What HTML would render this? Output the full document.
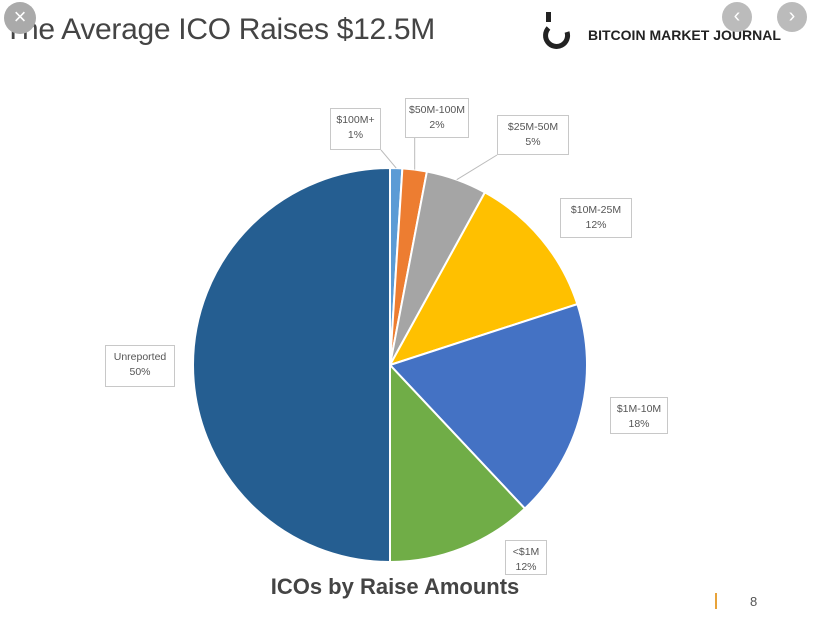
<!DOCTYPE html>
<html><head><meta charset="utf-8"><style>
body{margin:0;width:817px;height:621px;background:#fff;overflow:hidden;font-family:"Liberation Sans",sans-serif;position:relative}
.lbl{position:absolute;background:#fff;border:1px solid #c8c8c8;font-size:10.5px;color:#555;text-align:center;line-height:15px;padding:4px 0;box-sizing:border-box;white-space:nowrap}
</style></head><body>
<div style="position:absolute;left:4px;top:13px;font-size:30px;color:#444;letter-spacing:-0.3px">The Average ICO Raises $12.5M</div>
<div style="position:absolute;left:540px;top:12px;width:36px;height:40px">
<svg width="36" height="40"><rect x="6" y="0" width="5" height="10" fill="#222"/><path d="M8.5 16 A11 11 0 1 0 27 20" stroke="#222" stroke-width="5" fill="none"/></svg></div>
<div style="position:absolute;left:588px;top:27px;font-size:14px;font-weight:bold;color:#222">BITCOIN MARKET JOURNAL</div>
<div style="position:absolute;left:4px;top:2px;width:32px;height:32px;border-radius:50%;background:#aaa;color:#fff;font-size:22px;text-align:center;line-height:30px">×</div>
<div style="position:absolute;left:722px;top:2px;width:30px;height:30px;border-radius:50%;background:#bbb;color:#fff;font-size:20px;text-align:center;line-height:28px">‹</div>
<div style="position:absolute;left:777px;top:2px;width:30px;height:30px;border-radius:50%;background:#bbb;color:#fff;font-size:20px;text-align:center;line-height:28px">›</div>
<svg id="pie" width="817" height="621" style="position:absolute;left:0;top:0"></svg>
<div id="labels"></div>
<div style="position:absolute;left:0;width:790px;top:574px;text-align:center;font-size:22px;font-weight:bold;color:#444">ICOs by Raise Amounts</div>
<div style="position:absolute;left:715px;top:593px;width:2px;height:16px;background:#e8a33a"></div>
<div style="position:absolute;left:750px;top:594px;font-size:13px;color:#555">8</div>
<script>
const categories=["$100M+","$50M-100M","$25M-50M","$10M-25M","$1M-10M","<$1M","Unreported"];
const values=[1,2,5,12,18,12,50];
const colors=["#5b9bd5","#ed7d31","#a5a5a5","#ffc000","#4472c4","#70ad47","#255e91"];
const boxes=[[330,108,51,42],[405,98,64,40],[497,115,72,40],[560,198,72,40],[610,397,58,37],[505,540,42,35],[105,345,70,42]];
const cx=390,cy=365,r=197;
const svg=document.getElementById('pie');
const NS="http://www.w3.org/2000/svg";
const total=values.reduce((a,b)=>a+b,0);
let a0=0;
values.forEach((v,i)=>{
 const a1=a0+v/total*2*Math.PI;
 const p=(a)=>[cx+r*Math.sin(a),cy-r*Math.cos(a)];
 const [x0,y0]=p(a0),[x1,y1]=p(a1);
 const path=document.createElementNS(NS,'path');
 path.setAttribute('d',`M${cx},${cy}L${x0},${y0}A${r},${r} 0 ${a1-a0>Math.PI?1:0} 1 ${x1},${y1}Z`);
 path.setAttribute('fill',colors[i]);path.setAttribute('stroke','#fff');path.setAttribute('stroke-width','2');
 
 
 svg.appendChild(path);
 const b=boxes[i],mid=(a0+a1)/2;
 const ex=cx+r*Math.sin(mid),ey=cy-r*Math.cos(mid);
 const bx=Math.max(b[0],Math.min(b[0]+b[2],ex)),by=Math.max(b[1],Math.min(b[1]+b[3],ey));
 if(i<3){const ln=document.createElementNS(NS,'line');ln.setAttribute('x1',ex);ln.setAttribute('y1',ey);ln.setAttribute('x2',bx);ln.setAttribute('y2',by);ln.setAttribute('stroke','#bbb');
 
 
 svg.appendChild(ln);}
 const d=document.createElement('div');d.className='lbl';
 d.style.left=b[0]+'px';d.style.top=b[1]+'px';d.style.width=b[2]+'px';d.style.height=b[3]+'px';
 d.textContent=categories[i];d.appendChild(document.createElement('br'));d.appendChild(document.createTextNode(Math.round(v/total*100)+'%'));
 
 
 document.getElementById('labels').appendChild(d);
 a0=a1;
});
</script>
</body></html>
